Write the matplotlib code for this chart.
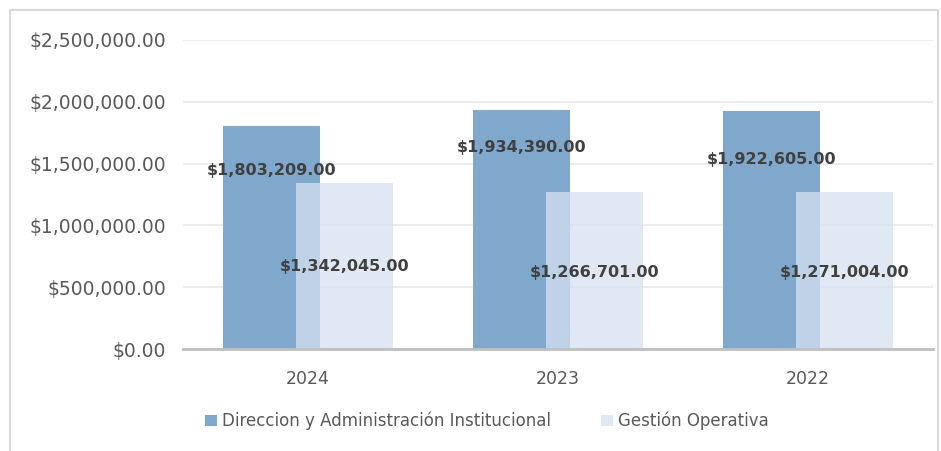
import numpy as np
import matplotlib
import matplotlib.pyplot as plt
from matplotlib.patches import Rectangle

matplotlib.use('Agg')

years = ['2024', '2023', '2022']
direccion = [1803209.00, 1934390.00, 1922605.00]
gestion = [1342045.00, 1266701.00, 1271004.00]
series_names = ['Direccion y Administración Institucional', 'Gestión Operativa']

# label offsets below the bar tops (points), placed by hand in the original
dir_label_off = [-32, -27, -35]
ges_label_off = [-60, -58, -58]

plt.rcParams['font.family'] = ['DejaVu Sans']
text_color = '#595959'

fig = plt.figure(figsize=(9.41, 4.51), dpi=100)
ax = fig.add_axes([183 / 941, 1 - 349 / 451, 750 / 941, 309 / 451])

# outer frame of the chart area
fig.patches.append(Rectangle((10 / 941, -0.05), 928 / 941, 1.05 - 10 / 451,
                             transform=fig.transFigure, fill=False,
                             edgecolor='#d9d9d9', linewidth=1.5))

x = np.arange(len(years))
width = 0.39
off = 0.146

b1 = ax.bar(x - off, direccion, width, color='#80a8cc', label=series_names[0], zorder=2)
b2 = ax.bar(x + off, gestion, width, color='#d6e1f1', alpha=0.75, label=series_names[1], zorder=3)

for i in range(len(years)):
    ax.annotate('${:,.2f}'.format(direccion[i]), (x[i] - off, direccion[i]),
                xytext=(0, dir_label_off[i]), textcoords='offset points',
                ha='center', va='center', fontsize=11.5, fontweight='bold',
                color='#404040', zorder=5)
    ax.annotate('${:,.2f}'.format(gestion[i]), (x[i] + off, gestion[i]),
                xytext=(0, ges_label_off[i]), textcoords='offset points',
                ha='center', va='center', fontsize=11.5, fontweight='bold',
                color='#404040', zorder=5)

ax.set_xlim(-0.5, 2.5)
ax.set_ylim(0, 2500000)
ax.set_yticks(np.arange(0, 2500001, 500000))
ax.yaxis.set_major_formatter(matplotlib.ticker.FuncFormatter(lambda v, p: '${:,.2f}'.format(v)))
ax.set_xticks(x)
ax.set_xticklabels(years)
ax.tick_params(axis='both', length=0, colors=text_color)
ax.tick_params(axis='y', pad=12, labelsize=13.5)
ax.tick_params(axis='x', pad=15, labelsize=12.5)

ax.grid(True, axis='y', color='#ebebeb', linewidth=1.5, zorder=0)
ax.set_axisbelow(True)
for s in ['top', 'right', 'left']:
    ax.spines[s].set_visible(False)
ax.spines['bottom'].set_color('#bfbfbf')
ax.spines['bottom'].set_linewidth(2)
ax.spines['bottom'].set_zorder(4)

leg = fig.legend(handles=[b1, b2], loc='center', bbox_to_anchor=(487 / 941, 1 - 421 / 451),
                 ncol=2, frameon=False, fontsize=12, handlelength=0.7, handleheight=0.7,
                 handletextpad=0.3, columnspacing=3.0, labelcolor=text_color)

fig.savefig('out.png', dpi=100)
